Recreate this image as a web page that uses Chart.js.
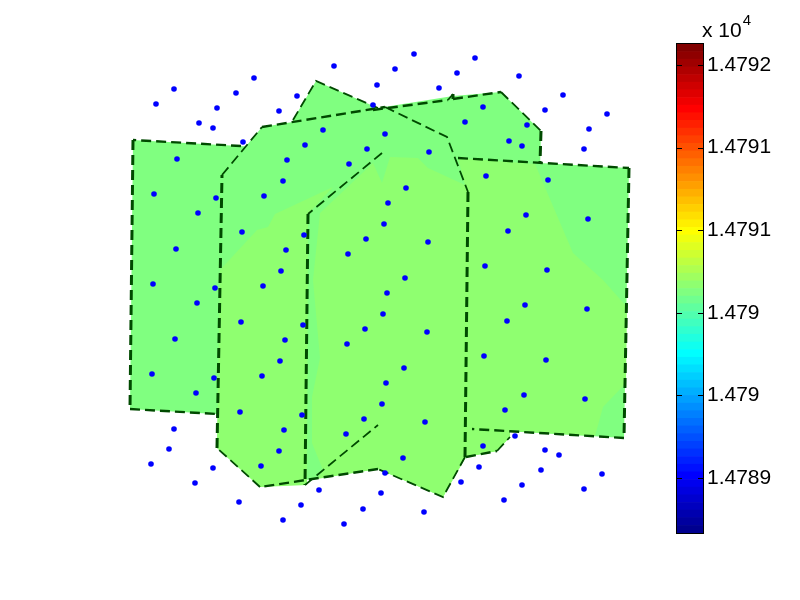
<!DOCTYPE html>
<html lang="en">
<head>
<meta charset="UTF-8">
<script src="https://cdn.jsdelivr.net/npm/chart.js"></script>
<style>
  html, body { margin: 0; background: #fff; }
  #wrap { position: relative; width: 800px; height: 600px; overflow: hidden; }
  canvas { position: absolute; left: 0; top: 0; }
  #exponent {
    position: absolute; left: 702px; top: 18px;
    font: 21px "Liberation Sans", Arial, sans-serif; color: #000; white-space: nowrap;
  }
  #exponent sup { font-size: 15px; position: relative; top: -12px; left: 1px; vertical-align: baseline; line-height: 0; }
</style>
</head>
<body>
<div id="wrap">
  <canvas id="mainChart" width="800" height="600"></canvas>
  <canvas id="barChart" width="800" height="600"></canvas>
  <div id="exponent">x 10<sup>4</sup></div>
</div>

<script>
  // sample points
  const dotsX = [334,254,174,236,377,297,156,217,373,279,199,213,323,243,305,367,177,287,349,283,154,216,264,198,242,304,366,176,286,348,281,
    414,475,395,457,519,439,563,545,483,607,465,527,589,509,522,584,385,429,486,548,406,388,526,588,384,508,428,485,547,405,
    153,215,263,197,241,303,365,175,285,347,280,262,152,214,196,240,302,364,174,284,346,169,279,151,261,213,195,319,239,301,363,283,344,
    387,525,587,507,383,427,484,546,404,386,524,585,382,505,425,515,483,545,559,403,479,541,385,602,461,522,584,381,504,424];
  const dotsY = [66,78,89,93,85,96,104,108,105,111,123,128,130,142,145,149,159,160,164,181,194,198,196,213,232,235,239,249,250,254,271,
    54,58,69,73,76,88,95,110,107,114,122,125,129,141,146,149,134,152,176,180,188,203,215,219,224,231,242,266,270,278,
    284,288,286,303,322,325,329,339,340,344,361,376,374,378,393,412,415,419,429,430,434,449,451,464,466,468,483,490,502,505,509,520,524,
    293,305,309,321,314,332,356,360,368,383,395,399,404,410,422,436,446,450,455,458,467,470,473,474,482,485,489,493,500,512];

  // patch areas, lower colour level
  const baseRect = [[133,140],[629,168],[624,438],[130,409]];
  const baseMain = [[222,175],[262,127],[385,107],[447,137],[468,192],[465,457],[443,497],[378,469],[260,487],[217,448]];
  const baseBack = [[293,120],[316,81],[378,108],[453,96],[501,92],[541,131],[540,170],[300,170]];
  const baseLower = [[466,420],[510,431],[510,437],[497,451],[466,457]];

  // patch areas, upper colour level
  const upperLeft = [[220,270],[257,230],[268,227],[275,214],[333,187],[308,214],[307,485],[260,487],[217,448]];
  const upperRight = [[320,213],[373,163],[382,183],[390,157],[418,158],[428,168],[465,185],[458,158],[535,164],[573,253],[603,280],[627,307],
    [626,383],[603,407],[595,436],[510,431],[510,437],[497,451],[466,457],[443,497],[378,469],[317,479],[323,470],[312,443],[312,397],[320,358],[313,280]];

  // dash-dot patch outlines
  const edgeRectLeft = [[241,146],[133,140],[130,409],[217,414]];
  const edgeRectRight = [[458,158],[629,168],[624,438],[472,429]];
  const edgeMain = [[222,175],[262,127],[385,107],[447,137],[468,192],[465,457],[443,497],[378,469],[260,487],[217,448],[222,175]];
  const edgeInner = [[382,153],[308,214],[305,485],[378,425]];
  const edgeBackLeft = [[293,120],[316,81],[378,108]];
  const edgeBackRight = [[373,110],[448,100],[453,94],[453,99],[501,92],[541,131],[540,163]];
  const edgeLower = [[466,457],[497,451],[510,437]];

  // colorbar
  const barEdges = [14789.167,14789.213,14789.26,14789.306,14789.352,14789.398,14789.445,14789.491,14789.537,14789.583,14789.63,14789.676,14789.722,
    14789.768,14789.815,14789.861,14789.907,14789.953,14790,14790.046,14790.092,14790.138,14790.185,14790.231,14790.277,14790.323,14790.37,14790.416,
    14790.462,14790.508,14790.555,14790.601,14790.647,14790.693,14790.74,14790.786,14790.832,14790.878,14790.925,14790.971,14791.017,14791.063,14791.11,
    14791.156,14791.202,14791.248,14791.295,14791.341,14791.387,14791.433,14791.48,14791.526,14791.572,14791.618,14791.665,14791.711,14791.757,14791.803,
    14791.85,14791.896,14791.942,14791.988,14792.035,14792.081,14792.127];
  const barTicks = [14789.5,14790,14790.5,14791,14791.5,14792];
  const barTickLabels = ['1.4789','1.479','1.479','1.4791','1.4791','1.4792'];

  const LOWER_GREEN = '#80ff80';
  const UPPER_GREEN = '#8fff70';
  const EDGE_GREEN = '#004a00';

  function toPoints(list) {
    return list.map(p => ({ x: p[0], y: p[1] }));
  }

  function areaSet(list, color) {
    return {
      data: toPoints(list), showLine: true, fill: 'shape',
      backgroundColor: color, borderWidth: 0, pointRadius: 0
    };
  }

  // edges come out heavier when vertical and thin when diagonal in the original
  function edgeWidth(ctx) {
    const dx = Math.abs(ctx.p1.parsed.x - ctx.p0.parsed.x);
    const dy = Math.abs(ctx.p1.parsed.y - ctx.p0.parsed.y);
    if (dx < dy * 0.1) return 3;
    if (dy < dx * 0.25) return 2.4;
    return 1.8;
  }

  function edgeSet(list) {
    return {
      data: toPoints(list), showLine: true, fill: false,
      borderColor: EDGE_GREEN, borderWidth: 2, borderDash: [10, 5], pointRadius: 0,
      segment: { borderWidth: edgeWidth }
    };
  }

  // first dataset ends up on top
  new Chart(document.getElementById('mainChart'), {
    type: 'scatter',
    data: {
      datasets: [
        {
          data: dotsX.map((x, i) => ({ x: x, y: dotsY[i] })),
          backgroundColor: '#0000ff', borderWidth: 0, pointRadius: 2.8, showLine: false
        },
        edgeSet(edgeRectLeft), edgeSet(edgeRectRight), edgeSet(edgeMain), edgeSet(edgeInner),
        edgeSet(edgeBackLeft), edgeSet(edgeBackRight), edgeSet(edgeLower),
        areaSet(upperLeft, UPPER_GREEN), areaSet(upperRight, UPPER_GREEN),
        areaSet(baseLower, LOWER_GREEN), areaSet(baseMain, LOWER_GREEN),
        areaSet(baseBack, LOWER_GREEN), areaSet(baseRect, LOWER_GREEN)
      ]
    },
    options: {
      responsive: false,
      animation: false,
      plugins: { legend: { display: false }, tooltip: { enabled: false } },
      layout: { padding: 0, autoPadding: false },
      scales: {
        x: { type: 'linear', display: false, min: 0, max: 800 },
        y: { type: 'linear', display: false, min: 0, max: 600, reverse: true }
      }
    }
  });

  function jetColor(i) {
    const t = (i + 1) / 64;
    const part = v => Math.round(255 * Math.max(0, Math.min(1, v)));
    const r = part(Math.min(4 * t - 1.5, -4 * t + 4.5));
    const g = part(Math.min(4 * t - 0.5, -4 * t + 3.5));
    const b = part(Math.min(4 * t + 0.5, -4 * t + 2.5));
    return `rgb(${r},${g},${b})`;
  }

  // black box round the colorbar, with ticks pointing in from both sides
  const frame = {
    id: 'frame',
    afterDraw(chart) {
      const a = chart.chartArea;
      const ctx = chart.ctx;
      ctx.save();
      ctx.strokeStyle = '#000';
      ctx.lineWidth = 1;
      ctx.strokeRect(a.left - 0.5, a.top - 0.5, a.right - a.left + 1, a.bottom - a.top + 1);
      barTicks.forEach(v => {
        const y = Math.round(chart.scales.y.getPixelForValue(v)) + 0.5;
        ctx.beginPath();
        ctx.moveTo(a.left, y);
        ctx.lineTo(a.left + 5, y);
        ctx.moveTo(a.right - 5, y);
        ctx.lineTo(a.right, y);
        ctx.stroke();
      });
      ctx.restore();
    }
  };

  new Chart(document.getElementById('barChart'), {
    type: 'bar',
    data: {
      labels: ['colorbar'],
      datasets: barEdges.slice(0, -1).map((low, i) => ({
        data: [[low, barEdges[i + 1]]],
        backgroundColor: jetColor(i),
        grouped: false,
        barPercentage: 1,
        categoryPercentage: 1
      }))
    },
    options: {
      responsive: false,
      animation: false,
      plugins: { legend: { display: false }, tooltip: { enabled: false } },
      layout: { padding: { left: 677, top: 44, bottom: 67, right: 0 }, autoPadding: false },
      scales: {
        x: { display: false, stacked: false },
        y: {
          position: 'right',
          min: 14789.167,
          max: 14792.127,
          afterBuildTicks(axis) { axis.ticks = barTicks.map(v => ({ value: v })); },
          afterFit(axis) { axis.width = 97; },
          border: { display: false },
          grid: { display: false, drawTicks: false },
          ticks: {
            padding: 4,
            color: '#000',
            font: { family: '"Liberation Sans", Arial, sans-serif', size: 21 },
            callback(value) { return barTickLabels[barTicks.indexOf(value)]; }
          }
        }
      }
    },
    plugins: [frame]
  });
</script>
</body>
</html>
